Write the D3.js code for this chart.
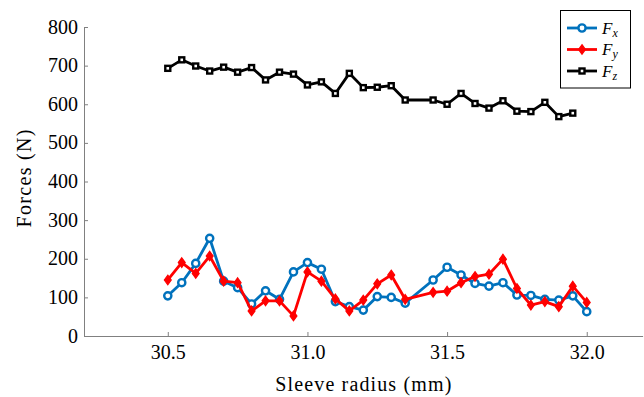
<!DOCTYPE html>
<html>
<head>
<meta charset="utf-8">
<script src="https://cdn.jsdelivr.net/npm/d3@7"></script>
<style>
  html, body { margin: 0; padding: 0; background: #fff; }
  svg text { font-family: "Liberation Serif", "Times New Roman", serif; fill: #000; }
</style>
</head>
<body>
<svg id="chart" width="644" height="397"></svg>
<script>
// ---- data ----
const radius = [30.5, 30.55, 30.6, 30.65, 30.7, 30.75, 30.8, 30.85, 30.9, 30.95,
                31.0, 31.05, 31.1, 31.15, 31.2, 31.25, 31.3, 31.35, 31.4, 31.45,
                31.5, 31.55, 31.6, 31.65, 31.7, 31.75, 31.8, 31.85, 31.9, 31.95, 32.0];
const Fx = [104, 138, 188, 253, 142, 125, 83, 117, 95, 166,
            190, 173, 89, 76, 67, 102, 100, 85, null, 145,
            178, 158, 136, 129, 138, 106, 105, 95, 93, 104, 63];
const Fy = [145, 190, 162, 207, 142, 138, 65, 91, 91, 52,
            166, 142, 96, 65, 93, 135, 158, 95, null, 113,
            116, 138, 154, 160, 199, 123, 80, 89, 76, 129, 87];
const Fz = [693, 715, 699, 686, 696, 683, 695, 663, 683, 678,
            650, 658, 628, 680, 643, 644, 648, 611, null, 611,
            600, 628, 602, 590, 609, 582, 581, 605, 568, 577, null];
const xTicks = [30.5, 31.0, 31.5, 32.0];
const yTicks = [0, 100, 200, 300, 400, 500, 600, 700, 800];
const seriesNames = ["x", "y", "z"];
const seriesColors = ["#0072BD", "#FF0000", "#000000"];
const xLabel = "Sleeve radius (mm)";
const yLabel = "Forces (N)";

// ---- layout ----
const FONT = "'Liberation Serif', 'Times New Roman', serif";
const svg = d3.select("#chart");
const x = d3.scaleLinear().domain([30.2, 32.2]).range([84, 642.6]);
const y = d3.scaleLinear().domain([0, 800]).range([336, 27]);
const axisColor = "#808080";
const fontSize = 20;

// axes
const gx = svg.append("g").attr("transform", `translate(0,${y(0)})`)
  .call(d3.axisBottom(x).tickValues(xTicks).tickFormat(d3.format(".1f")).tickSizeInner(-4).tickSizeOuter(0).tickPadding(9));
const gy = svg.append("g").attr("transform", `translate(${x.range()[0]},0)`)
  .call(d3.axisLeft(y).tickValues(yTicks).tickFormat(d3.format("d")).tickSizeInner(-4).tickSizeOuter(0).tickPadding(6));
[gx, gy].forEach(g => {
  g.attr("font-family", null).style("font-family", FONT);
  g.select(".domain").attr("stroke", axisColor).attr("stroke-width", 1);
  g.selectAll(".tick line").attr("stroke", axisColor).attr("stroke-width", 1);
  g.selectAll(".tick text").attr("font-size", fontSize).style("font-family", FONT).attr("fill", "#000");
});
gy.selectAll(".tick text").attr("dy", "0.3em");
gx.selectAll(".tick text").attr("dy", "0.68em");

// axis labels
svg.append("text").attr("x", (x.range()[0] + x.range()[1]) / 2).attr("y", 391)
  .attr("text-anchor", "middle").attr("font-size", fontSize)
  .attr("textLength", 176).attr("lengthAdjust", "spacing").style("font-family", FONT).text(xLabel);
svg.append("text").attr("transform", `translate(31,${(y(0) + y(800)) / 2 - 3}) rotate(-90)`)
  .attr("text-anchor", "middle").attr("font-size", fontSize)
  .attr("textLength", 98).attr("lengthAdjust", "spacing").style("font-family", FONT).text(yLabel);

// series
const series = [Fx, Fy, Fz].map((vals, i) => ({
  name: seriesNames[i], color: seriesColors[i],
  pts: radius.map((r, j) => ({ r, v: vals[j] })).filter(p => p.v !== null)
}));

const line = d3.line().x(d => x(d.r)).y(d => y(d.v));

function drawMarker(g, kind, color, cx, cy) {
  if (kind === "x") {
    g.append("circle").attr("cx", cx).attr("cy", cy).attr("r", 3.6)
      .attr("fill", "#fff").attr("stroke", color).attr("stroke-width", 2.4);
  } else if (kind === "y") {
    const s = 4.8;
    g.append("path").attr("d", `M${cx},${cy - s}L${cx + s * 0.72},${cy}L${cx},${cy + s}L${cx - s * 0.72},${cy}Z`)
      .attr("fill", color).attr("stroke", color).attr("stroke-width", 1.2);
  } else {
    g.append("rect").attr("x", cx - 2.5).attr("y", cy - 2.5).attr("width", 5).attr("height", 5)
      .attr("fill", "#fff").attr("stroke", color).attr("stroke-width", 2.4);
  }
}

// draw Fx first, then Fy, then Fz
series.forEach(s => {
  const g = svg.append("g");
  g.append("path").datum(s.pts).attr("d", line).attr("fill", "none")
    .attr("stroke", s.color).attr("stroke-width", 2.8).attr("stroke-linejoin", "round");
  s.pts.forEach(p => drawMarker(g, s.name, s.color, x(p.r), y(p.v)));
});

// legend
const lg = svg.append("g");
lg.append("rect").attr("x", 560.5).attr("y", 10.5).attr("width", 70).attr("height", 77.5)
  .attr("fill", "#fff").attr("stroke", "#000").attr("stroke-width", 1);
series.forEach((s, i) => {
  const cy = 28 + i * 21.5;
  lg.append("line").attr("x1", 567).attr("x2", 597).attr("y1", cy).attr("y2", cy)
    .attr("stroke", s.color).attr("stroke-width", 2.8);
  drawMarker(lg, s.name, s.color, 582, cy);
  const t = lg.append("text").attr("x", 602).attr("y", cy + 5.5).attr("font-size", 17).style("font-family", FONT);
  t.append("tspan").attr("font-style", "italic").text("F");
  t.append("tspan").attr("font-style", "italic").attr("font-size", 12).attr("dy", 3).text(s.name);
});
</script>
</body>
</html>
